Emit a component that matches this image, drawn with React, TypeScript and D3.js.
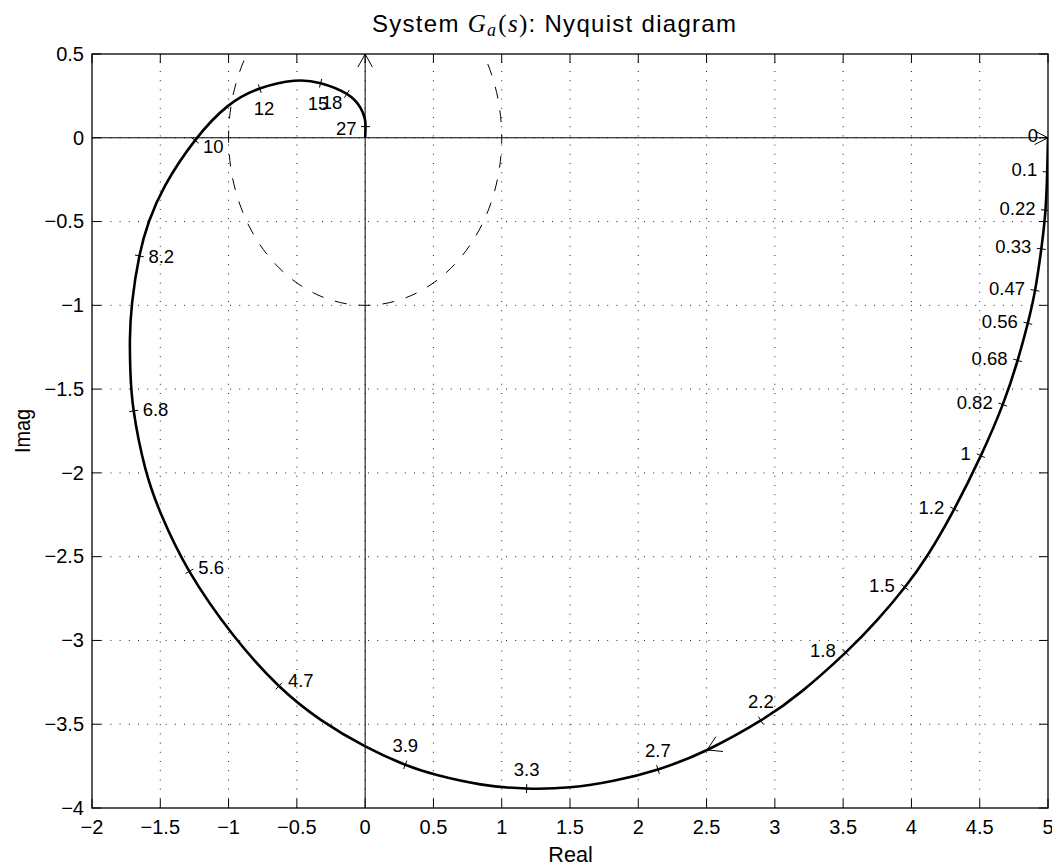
import React from 'react';
import * as d3 from 'd3';

const WIDTH = 1052;
const HEIGHT = 865;

// Nyquist locus of G_a(jw) for w >= 0, sampled along the curve (real / imaginary parts)
const locusRe = [
  5.0, 4.995, 4.985, 4.954, 4.905, 4.856, 4.783, 4.678, 4.515, 4.312, 4.118, 3.96, 3.752, 3.545,
  3.184, 2.928, 2.489, 2.139, 1.819, 1.5, 1.187, 0.845, 0.499, 0.316, 0.0, -0.331, -0.623, -0.965,
  -1.314, -1.502, -1.612, -1.709, -1.72, -1.725, -1.714, -1.654, -1.588, -1.487, -1.246, -1.002,
  -0.782, -0.501, -0.336, -0.111, -0.025, 0.001, 0.004, 0.0,
];
const locusIm = [
  0.0, -0.196, -0.435, -0.654, -0.928, -1.098, -1.322, -1.585, -1.893, -2.226, -2.5, -2.679, -2.88, -3.057,
  -3.32, -3.469, -3.669, -3.777, -3.841, -3.882, -3.889, -3.866, -3.8, -3.754, -3.638, -3.478, -3.292, -2.985,
  -2.575, -2.241, -1.999, -1.599, -1.386, -1.207, -0.998, -0.683, -0.501, -0.3, 0.0, 0.208,
  0.301, 0.351, 0.335, 0.265, 0.176, 0.112, 0.072, 0.0,
];

// Frequency markers (rad/s) and where they sit on the locus
const markerLabels = [
  '0', '0.1', '0.22', '0.33', '0.47', '0.56', '0.68', '0.82', '1', '1.2', '1.5', '1.8',
  '2.2', '2.7', '3.3', '3.9', '4.7', '5.6', '6.8', '8.2', '10', '12', '15', '18', '27',
];
const markerRe = [
  5.0, 4.995, 4.985, 4.954, 4.905, 4.856, 4.783, 4.678, 4.515, 4.312, 3.96, 3.545,
  2.928, 2.139, 1.187, 0.316, -0.623, -1.314, -1.709, -1.654, -1.246, -0.782, -0.336, -0.111, 0.004,
];
const markerIm = [
  0.0, -0.196, -0.435, -0.654, -0.928, -1.098, -1.322, -1.585, -1.893, -2.226, -2.679, -3.057,
  -3.469, -3.777, -3.889, -3.754, -3.292, -2.575, -1.599, -0.683, 0.0, 0.301, 0.335, 0.265, 0.072,
];

// Direction-of-travel arrow on the locus
const arrowRe = [2.489];
const arrowIm = [-3.669];

const xTicks = [-2, -1.5, -1, -0.5, 0, 0.5, 1, 1.5, 2, 2.5, 3, 3.5, 4, 4.5, 5];
const yTicks = [-4, -3.5, -3, -2.5, -2, -1.5, -1, -0.5, 0, 0.5];

const SANS = "'Liberation Sans', Arial, Helvetica, sans-serif";
const SERIF = "'Liberation Serif', 'Times New Roman', serif";

const fmt = (v: number) => (v < 0 ? '\u2212' + String(-v) : String(v));

type P = [number, number];

function unit(dx: number, dy: number): P {
  const l = Math.hypot(dx, dy) || 1;
  return [dx / l, dy / l];
}

// Where each frequency label goes relative to its marker, by region of the locus
function labelPlacement(w: number, n: P) {
  if (w < 2) return { dx: -10, dy: 4.5, anchor: 'end' };
  if (w < 4.5) return { dx: 0, dy: -12.5, anchor: 'middle' };
  if (w < 9) return { dx: 9, dy: 6 + n[1] * 7, anchor: 'start' };
  if (w < 11) return { dx: 8, dy: 13, anchor: 'start' };
  if (w < 13) return { dx: 4.4, dy: 26.5, anchor: 'middle' };
  if (w < 17) return { dx: -2.5, dy: 27, anchor: 'middle' };
  if (w < 20) return { dx: -4.5, dy: 15.2, anchor: 'end' };
  return { dx: -9, dy: 8.4, anchor: 'end' };
}

function chevron(tip: P, back: P, len: number, halfAngleDeg: number) {
  const a = (halfAngleDeg * Math.PI) / 180;
  const rot = (v: P, t: number): P => [v[0] * Math.cos(t) - v[1] * Math.sin(t), v[0] * Math.sin(t) + v[1] * Math.cos(t)];
  const r1 = rot(back, a);
  const r2 = rot(back, -a);
  return `M${tip[0] + r1[0] * len},${tip[1] + r1[1] * len}L${tip[0]},${tip[1]}L${tip[0] + r2[0] * len},${tip[1] + r2[1] * len}`;
}

export default function App() {
  const x = d3.scaleLinear().domain([-2, 5]).range([92, 1048]);
  const y = d3.scaleLinear().domain([-4, 0.5]).range([808, 54]);
  const [xL, xR] = x.range();
  const [yB, yT] = y.range();

  const pts: P[] = locusRe.map((r, i) => [x(r), y(locusIm[i])]);
  // uniform cubic B-spline over the sampled locus
  const locusPath = d3.line().curve(d3.curveBasis)(pts) || '';

  // point and unit tangent of the B-spline at the knot of the sample nearest to p
  const onSpline = (p: P) => {
    let k = 0;
    let best = Infinity;
    pts.forEach((q, i) => {
      const d = Math.hypot(q[0] - p[0], q[1] - p[1]);
      if (d < best) {
        best = d;
        k = i;
      }
    });
    const a = pts[Math.max(k - 1, 0)];
    const b = pts[Math.min(k + 1, pts.length - 1)];
    const c = pts[k];
    const pos: P =
      k === 0 || k === pts.length - 1
        ? c
        : [(a[0] + 4 * c[0] + b[0]) / 6, (a[1] + 4 * c[1] + b[1]) / 6];
    return { pos, t: unit(b[0] - a[0], b[1] - a[1]) };
  };

  const markers = markerLabels.map((lab, i) => {
    const s = onSpline([x(markerRe[i]), y(markerIm[i])]);
    const n: P = [-s.t[1], s.t[0]];
    const w = parseFloat(lab);
    return { lab, p: s.pos, n, place: labelPlacement(w, n) };
  });

  const arrowS = onSpline([x(arrowRe[0]), y(arrowIm[0])]);
  const arrowPath = chevron(arrowS.pos, [-arrowS.t[0], -arrowS.t[1]], 16, 31);

  const topArrow = chevron([x(0), yT], [0, 1], 15, 29);
  const rightArrow = chevron([xR, y(0)], [-1, 0], 15, 27);

  const tickLen = 9;

  return (
    <svg
      width={WIDTH}
      height={HEIGHT}
      viewBox={`0 0 ${WIDTH} ${HEIGHT}`}
      style={{ position: 'absolute', left: 0, top: 0, background: '#fff' }}
      fontFamily={SANS}
    >
      <defs>
        <clipPath id="plotArea">
          <rect x={xL} y={yT} width={xR - xL} height={yB - yT} />
        </clipPath>
      </defs>
      <rect x={0} y={0} width={WIDTH} height={HEIGHT} fill="#fff" />

      {/* dotted grid */}
      <g stroke="#222" strokeWidth={1} strokeDasharray="1 8.2">
        {xTicks.slice(1, -1).map((v) => (
          <line key={'gx' + v} x1={x(v)} x2={x(v)} y1={yB} y2={yT} />
        ))}
        {yTicks.slice(1, -1).map((v) => (
          <line key={'gy' + v} x1={xL} x2={xR} y1={y(v)} y2={y(v)} />
        ))}
      </g>

      <g clipPath="url(#plotArea)">
        {/* real and imaginary axes */}
        <line x1={xL} x2={xR} y1={y(0)} y2={y(0)} stroke="#000" strokeWidth={1} />
        <line x1={x(0)} x2={x(0)} y1={yB} y2={yT} stroke="#000" strokeWidth={1} />

        {/* unit circle */}
        <ellipse
          cx={x(0)}
          cy={y(0)}
          rx={x(1) - x(0)}
          ry={y(-1) - y(0)}
          fill="none"
          stroke="#000"
          strokeWidth={1}
          strokeDasharray="12 12"
          strokeDashoffset={6}
        />

        {/* locus */}
        <path d={locusPath} fill="none" stroke="#000" strokeWidth={2.6} strokeLinejoin="round" />

        {/* frequency marker ticks */}
        <g stroke="#000" strokeWidth={1}>
          {markers.map((m) => (
            <line
              key={'mt' + m.lab}
              x1={m.p[0] - m.n[0] * 4.5}
              y1={m.p[1] - m.n[1] * 4.5}
              x2={m.p[0] + m.n[0] * 4.5}
              y2={m.p[1] + m.n[1] * 4.5}
            />
          ))}
        </g>

        <path d={arrowPath} fill="none" stroke="#000" strokeWidth={1} />
        <path d={topArrow} fill="none" stroke="#000" strokeWidth={1} />
        <path d={rightArrow} fill="none" stroke="#000" strokeWidth={1} />
      </g>

      {/* frequency labels */}
      <g fontSize={18.5} fill="#000">
        {markers.map((m) => (
          <text key={'ml' + m.lab} x={m.p[0] + m.place.dx} y={m.p[1] + m.place.dy} textAnchor={m.place.anchor as any}>
            {m.lab}
          </text>
        ))}
      </g>

      {/* axis ticks */}
      <g stroke="#000" strokeWidth={1}>
        {xTicks.map((v) => (
          <g key={'tx' + v}>
            <line x1={x(v)} x2={x(v)} y1={yB} y2={yB - tickLen} />
            <line x1={x(v)} x2={x(v)} y1={yT} y2={yT + tickLen} />
          </g>
        ))}
        {yTicks.map((v) => (
          <g key={'ty' + v}>
            <line x1={xL} x2={xL + tickLen} y1={y(v)} y2={y(v)} />
            <line x1={xR} x2={xR - tickLen} y1={y(v)} y2={y(v)} />
          </g>
        ))}
      </g>

      {/* frame */}
      <rect x={xL} y={yT} width={xR - xL} height={yB - yT} fill="none" stroke="#000" strokeWidth={1.3} />

      {/* tick labels */}
      <g fontSize={20} fill="#000">
        {xTicks.map((v) => (
          <text key={'lx' + v} x={x(v)} y={834.3} textAnchor="middle">
            {fmt(v)}
          </text>
        ))}
        {yTicks.map((v) => (
          <text key={'ly' + v} x={84} y={y(v) + 6.8} textAnchor="end">
            {fmt(v)}
          </text>
        ))}
      </g>

      {/* axis titles */}
      <text x={570.5} y={861.5} fontSize={22} textAnchor="middle" textLength={44.4} lengthAdjust="spacingAndGlyphs">
        Real
      </text>
      <text
        transform="translate(30,431) rotate(-90)"
        fontSize={22}
        textAnchor="middle"
        textLength={44}
        lengthAdjust="spacingAndGlyphs"
      >
        Imag
      </text>

      {/* title: System G_a(s): Nyquist diagram */}
      <text x={372} y={31.7} fontSize={24} fill="#000" textLength={364} lengthAdjust="spacing">
        <tspan>System </tspan>
        <tspan fontFamily={SERIF} fontStyle="italic" fontSize={25}>G</tspan>
        <tspan fontFamily={SERIF} fontStyle="italic" fontSize={18} dy={4}>a</tspan>
        <tspan fontFamily={SERIF} fontSize={25} dy={-4} dx={1}>(</tspan>
        <tspan fontFamily={SERIF} fontStyle="italic" fontSize={25}>s</tspan>
        <tspan fontFamily={SERIF} fontSize={25}>)</tspan>
        <tspan>: Nyquist diagram</tspan>
      </text>
    </svg>
  );
}
